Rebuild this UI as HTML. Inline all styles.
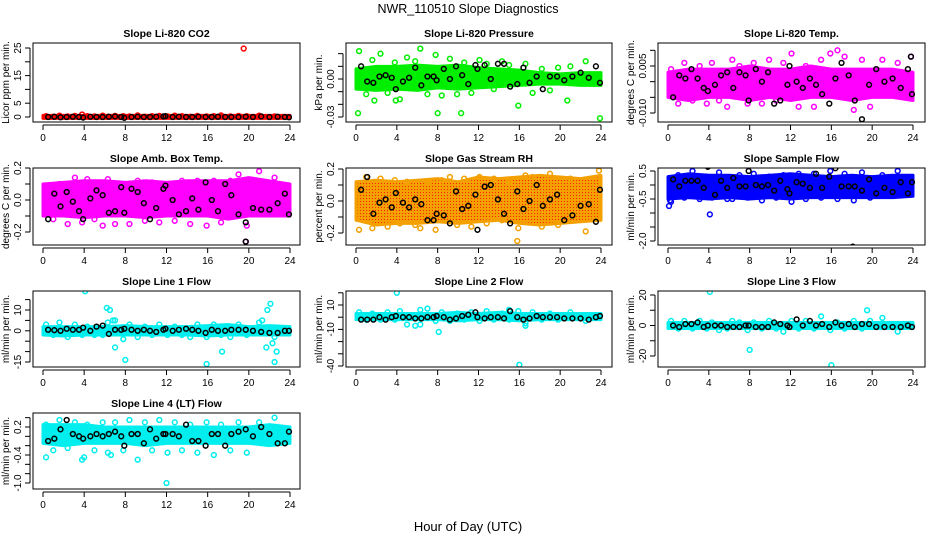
<!DOCTYPE html>
<html><head><meta charset="utf-8"><style>
html,body{margin:0;padding:0;background:#fff;}
svg{display:block;font-family:"Liberation Sans",sans-serif;}
</style></head><body>
<svg id="chart" width="936" height="540" viewBox="0 0 936 540">
<text x="468" y="13" text-anchor="middle" font-size="12.5">NWR_110510  Slope Diagnostics</text>
<text x="468" y="531" text-anchor="middle" font-size="13">Hour of Day (UTC)</text>
</svg>
<script>
// ---- shared hour arrays ----
const colHours=[0.3,1.0,1.6,2.4,3.1,3.8,4.3,5.0,5.8,6.3,7.0,7.8,8.4,9.2,9.9,10.6,11.3,12.1,12.8,13.5,14.3,15.0,15.9,16.6,17.3,18.2,19.0,19.8,21.0,22.5];
const blkHours=[0.5,1.1,1.7,2.3,2.9,3.5,3.9,4.6,5.2,5.8,6.4,7.0,7.6,7.9,8.6,9.2,9.8,10.4,11.0,11.7,11.9,12.6,13.2,13.9,14.5,15.1,15.8,16.4,17.0,17.7,18.3,19.0,19.7,20.4,21.2,22.0,22.8,23.5,23.9];
const bandHours=[0,2,4,6,8,10,12,14,16,18,20,22,24];
const xTickLabels=["0","4","8","12","16","20","24"];
const xTickValues=[0,4,8,12,16,20,24];

// ---- panel 1: CO2 ----
const co2BandLo=[-0.5,-0.5,-0.5,-0.5,-0.5,-0.5,-0.5,-0.5,-0.5,-0.5,-0.5,-0.5,-0.5];
const co2BandHi=[0.6,0.6,0.6,0.6,0.6,0.6,0.6,0.6,0.6,0.6,0.6,0.6,0.6];
const co2Col=[0.3,0.1,0.5,0.2,0.4,0.9,0.3,0.2,0.5,0.1,0.4,0.3,0.2,0.6,0.1,0.3,0.4,0.2,0.5,0.3,0.1,0.4,0.2,0.3,0.6,0.2,0.4,0.3,0.5,0.2];
const co2Blk=[0,0.1,-0.1,0,0.1,0,-0.2,0.1,0,0,0.1,0.2,0,-0.3,0,0.1,0,0,0.1,0.2,0.3,0,0.1,0,0,0.1,0,0,0.1,0,0,0,0.1,0,0.2,0,0.1,0,-0.1];
const co2OutHours=[19.5];
const co2OutVals=[24.8];
// ---- panel 2: pressure ----
const presBandLo=[-0.008,-0.009,-0.008,-0.009,-0.007,-0.008,-0.007,-0.006,-0.005,-0.004,-0.004,-0.005,-0.005];
const presBandHi=[0.008,0.010,0.010,0.011,0.010,0.011,0.009,0.008,0.007,0.005,0.004,0.005,0.005];
const presCol=[0.022,-0.012,0.015,0.02,-0.011,0.013,-0.016,0.017,0.014,0.024,-0.012,0.019,-0.013,0.016,-0.012,0.013,-0.011,0.015,0.012,-0.008,0.014,0.011,-0.021,0.012,-0.011,0.008,-0.009,0.009,0.010,0.014];
const presBlk=[0.01,-0.002,-0.003,0.002,0.003,0.001,-0.008,-0.002,0.001,0.009,-0.005,0.002,0.002,-0.001,0.008,0.0,0.01,0.003,-0.004,0.011,0.008,0.011,0.0,0.012,0.012,-0.006,-0.004,0.009,-0.003,0.002,-0.008,0.002,0.002,-0.001,0.002,0.005,0.001,0.01,-0.003];
const presOutHours=[0.2,8.0,10.3,23.9,20.7,3.9,1.8];
const presOutVals=[-0.027,-0.027,-0.027,-0.031,-0.017,-0.017,-0.017];
// ---- panel 3: Li-820 temp ----
const tempBandLo=[-0.005,-0.006,-0.005,-0.005,-0.006,-0.005,-0.006,-0.005,-0.005,-0.006,-0.005,-0.005,-0.006];
const tempBandHi=[0.003,0.004,0.004,0.004,0.005,0.004,0.004,0.005,0.004,0.004,0.004,0.004,0.003];
const tempCol=[0.004,-0.007,0.006,-0.006,0.005,-0.007,0.006,-0.006,-0.008,0.007,0.005,-0.007,0.006,-0.007,0.007,-0.006,0.006,0.009,-0.008,0.005,-0.008,0.007,0.009,0.010,0.008,-0.009,0.007,-0.008,0.007,0.006];
const tempBlk=[-0.005,0.002,0.001,0.004,0.001,-0.002,-0.003,-0.001,0.002,0.003,-0.002,0.003,0.002,-0.006,0.004,0.0,0.003,-0.007,-0.006,-0.001,0.005,0.0,-0.002,0.001,-0.001,-0.004,-0.007,0.001,0.006,0.002,-0.006,-0.012,-0.001,0.004,0.0,0.001,-0.002,0.004,-0.004];
const tempOutHours=[23.8];
const tempOutVals=[0.008];
// ---- panel 4: amb box temp ----
const ambBandLo=[-0.1,-0.1,-0.11,-0.1,-0.1,-0.11,-0.1,-0.1,-0.1,-0.12,-0.1,-0.1,-0.1];
const ambBandHi=[0.1,0.11,0.12,0.12,0.11,0.12,0.11,0.12,0.12,0.12,0.14,0.12,0.1];
const ambCol=[0.08,-0.12,0.1,-0.15,0.14,-0.14,0.13,-0.12,-0.16,0.13,-0.15,0.1,-0.15,0.12,-0.13,0.11,-0.14,0.1,-0.13,0.12,-0.15,0.12,-0.16,0.12,-0.14,0.12,0.16,-0.16,0.18,0.14];
const ambBlk=[-0.12,0.04,-0.04,0.05,-0.01,-0.07,-0.12,0.01,0.06,0.03,-0.08,-0.07,0.08,-0.08,0.07,0.05,-0.02,-0.12,-0.05,0.07,0.09,0.0,-0.09,-0.07,0.01,-0.06,0.11,0.0,-0.07,0.1,0.03,-0.09,-0.14,-0.05,-0.06,-0.06,-0.02,0.04,-0.09];
const ambOutHours=[19.7];
const ambOutVals=[-0.26];
// ---- panel 5: RH ----
const rhBandLo=[-0.12,-0.15,-0.14,-0.14,-0.13,-0.14,-0.13,-0.12,-0.14,-0.15,-0.14,-0.13,-0.12];
const rhBandHi=[0.12,0.13,0.12,0.13,0.14,0.12,0.15,0.14,0.15,0.16,0.15,0.14,0.16];
const rhCol=[-0.18,0.15,-0.17,0.14,-0.16,0.13,-0.14,0.12,-0.15,-0.17,0.12,-0.18,0.13,0.15,-0.15,0.14,-0.16,0.15,-0.14,0.14,-0.12,0.12,-0.17,0.16,0.15,-0.16,0.17,-0.15,0.14,-0.19];
const rhBlk=[0.07,0.15,-0.08,-0.01,0.01,-0.04,0.05,-0.01,-0.04,0.01,-0.02,-0.12,-0.12,-0.08,-0.09,-0.14,0.06,-0.05,-0.03,0.04,-0.18,0.09,0.1,0.01,-0.08,-0.14,0.06,-0.05,0.0,0.1,-0.03,0.01,0.04,-0.12,-0.09,-0.03,-0.02,-0.13,0.07];
const rhOutHours=[15.8,23.8];
const rhOutVals=[-0.25,0.19];
// ---- panel 6: sample flow ----
const sfBandLo=[-0.5,-0.45,-0.5,-0.45,-0.5,-0.45,-0.5,-0.45,-0.45,-0.45,-0.45,-0.45,-0.4];
const sfBandHi=[0.3,0.4,0.35,0.35,0.3,0.35,0.4,0.35,0.3,0.35,0.3,0.35,0.35];
const sfCol=[-0.6,0.35,-0.45,0.5,-0.5,0.3,-0.45,0.45,-0.5,-0.5,0.35,-0.45,0.4,-0.55,0.3,-0.45,0.35,-0.6,0.4,-0.5,0.4,-0.45,0.5,-0.5,0.4,-0.55,0.45,-0.45,0.35,0.5];
const sfBlk=[0.2,-0.05,0.15,0.15,0.15,-0.1,0.65,-0.35,0.15,-0.1,0.25,-0.05,-0.05,0.5,0.0,-0.05,0.0,-0.2,0.15,-0.15,-0.3,0.1,0.05,-0.1,0.4,-0.1,0.3,0.6,-0.05,-0.05,-0.05,-0.2,0.2,-0.3,-0.1,-0.25,0.1,-0.3,0.1];
const sfOutHours=[0.1,4.1,0.2];
const sfOutVals=[-0.75,-1.05,-0.55];
const sfBlkOutHours=[18.1];
const sfBlkOutVals=[-2.2];
// ---- panel 7: line 1 ----
const l1BandLo=[-2,-2.5,-2,-2,-2,-2,-2,-2,-2.5,-2,-2,-2,-2];
const l1BandHi=[2,2,2,2,2.5,2,2,2,2.5,3,2,2.5,2];
const l1Col=[3,-2,4,-3,3,-2,2,-2,-2,4,5,-4,3,-3,2,-2,3,-2,2,-2,-3,3,-3,3,-2,-3,3,-2,4,-3];
const l1Blk=[0.5,0.3,0,1,0.5,0.5,1.5,0,2,2.5,-1.5,0.5,0.5,1,0.5,0,0.5,0,-0.5,0.5,1,0,0.5,1,0.5,0,-1,0.5,0,0,0.5,0.5,0.5,0,-0.5,-1,-1,0,0];
const l1OutHours=[4.1,6.2,6.5,6.8,7.0,8.0,15.9,17.4,21.7,22.1,22.5,21.8,22.3,22.7,21.3];
const l1OutVals=[19,11,10,5,-8,-14,-16,-10,-8,13,-15,10,-6,-10,5];
// ---- panel 8: line 2 ----
const l2BandLo=[-2,-2,-2,-2,-2,-3,-2,-2,-3,-2,-2,-2,-2];
const l2BandHi=[3,3,3,3,3,4,3,4,3,3,3,3,3];
const l2Col=[4,-2,3,-2,4,-2,5,-6,-7,6,7,-3,4,-3,3,-2,4,-3,5,-2,3,-2,5,-7,4,-2,3,-2,4,-3];
const l2Blk=[-2,-2,-2,0,-2,0,1,0,0,-1,-1,0,0,1,0,-2,-1,1,2,4,0,-1,0,0,-1,5,0,-2,-1,1,0,0,0,-1,-1,-1,-2,0,1];
const l2OutHours=[4.0,8.1,16.0,15.0,16.6,6.3];
const l2OutVals=[20,-12,-39,6,-5,-6];
// ---- panel 9: line 3 ----
const l3BandLo=[-2,-2,-2,-2,-2,-2,-2,-2,-2,-2,-2,-2,-2];
const l3BandHi=[2,2,2,2,2,2,2,2,2,2,2,2,2];
const l3Col=[3,-2,3,-2,3,-2,2,-3,-2,3,2,-3,2,-2,3,-2,-4,3,-2,3,-2,6,-3,2,-2,3,-2,3,5,-4];
const l3Blk=[0,-1,1,1,2,-1,0,0,0,-1,-1,-1,0,0,-1,-1,-1,2,1,0,-1,4,0,3,0,1,-1,2,0,1,-1,1,1,-1,-1,-1,-1,0,-1];
const l3OutHours=[4.1,8.0,16.0,19.5];
const l3OutVals=[22,-16,-26,10];
// ---- panel 10: line 4 ----
const l4BandLo=[-0.15,-0.2,-0.15,-0.15,-0.15,-0.2,-0.15,-0.15,-0.15,-0.15,-0.15,-0.2,-0.15];
const l4BandHi=[0.25,0.25,0.25,0.2,0.2,0.2,0.2,0.2,0.2,0.2,0.2,0.25,0.2];
const l4Col=[0.25,-0.3,0.35,-0.25,0.3,-0.5,0.25,-0.3,0.3,-0.35,0.3,-0.3,0.35,-0.5,0.3,-0.3,0.35,-0.35,0.3,-0.3,0.25,-0.35,0.3,-0.4,0.25,-0.3,0.3,-0.35,0.3,0.4];
const l4Blk=[-0.1,-0.05,0.15,0.35,0.05,0.0,-0.05,0.0,0.05,0.0,0.05,0.1,0.0,-0.2,0.05,0.05,-0.15,0.15,-0.05,0.05,0.05,0.05,0.0,0.25,-0.1,-0.1,-0.2,0.05,0.05,-0.2,0.05,0.1,0.15,0.0,0.2,0.05,-0.15,-0.15,0.1];
const l4OutHours=[0.3,12.0,6.6,4.0];
const l4OutVals=[-0.45,-1.0,-0.4,-0.45];

const NS="http://www.w3.org/2000/svg";
const svg=document.getElementById('chart');
function mk(tag,attrs,parent){const e=document.createElementNS(NS,tag);for(const k in attrs)e.setAttribute(k,attrs[k]);(parent||svg).appendChild(e);return e;}

const cols=[{x0:33,x1:300,h0:43,h24:290},{x0:346,x1:612,h0:356,h24:601},{x0:658,x1:925,h0:668,h24:913}];
const rows=[{y0:43,y1:122},{y0:168,y1:245},{y0:291,y1:367},{y0:413,y1:489}];

const panels=[
 {key:'co2',title:'Slope Li-820 CO2',ylab:'Licor ppm per min.',c:0,r:0,color:'#ff0000',va:0,ya:117,vb:25,yb:48,ticks:[0,5,10,15,20,25],labels:{0:'0',5:'5',15:'15',25:'25'},lo:co2BandLo,hi:co2BandHi,col:co2Col,blk:co2Blk,oh:co2OutHours,ov:co2OutVals},
 {key:'pressure',title:'Slope Li-820 Pressure',ylab:'kPa per min.',c:1,r:0,color:'#00ee00',va:0,ya:79,vb:-0.03,yb:117,ticks:[-0.03,-0.02,-0.01,0,0.01,0.02],labels:{'-0.03':'-0.03','0':'0.00'},lo:presBandLo,hi:presBandHi,col:presCol,blk:presBlk,oh:presOutHours,ov:presOutVals},
 {key:'li820-temp',title:'Slope Li-820 Temp.',ylab:'degrees C per min.',c:2,r:0,color:'#ff00ff',va:0.005,ya:66,vb:-0.01,yb:113,ticks:[-0.01,-0.005,0,0.005,0.01],labels:{'-0.01':'-0.010','0.005':'0.005'},lo:tempBandLo,hi:tempBandHi,col:tempCol,blk:tempBlk,oh:tempOutHours,ov:tempOutVals,blkOut:true},
 {key:'amb-temp',title:'Slope Amb. Box Temp.',ylab:'degrees C per min.',c:0,r:1,color:'#ff00ff',va:0.2,ya:168,vb:-0.2,yb:232,ticks:[-0.2,-0.1,0,0.1,0.2],labels:{'-0.2':'-0.2','0':'0.0','0.2':'0.2'},lo:ambBandLo,hi:ambBandHi,col:ambCol,blk:ambBlk,oh:ambOutHours,ov:ambOutVals,blkOut:true},
 {key:'rh',title:'Slope Gas Stream RH',ylab:'percent per min.',c:1,r:1,color:'#f4a000',dot:'#ff2000',va:0.2,ya:169,vb:-0.2,yb:233,ticks:[-0.2,-0.1,0,0.1,0.2],labels:{'-0.2':'-0.2','0':'0.0','0.2':'0.2'},lo:rhBandLo,hi:rhBandHi,col:rhCol,blk:rhBlk,oh:rhOutHours,ov:rhOutVals},
 {key:'sample-flow',title:'Slope Sample Flow',ylab:'ml/min per min.',c:2,r:1,color:'#0000ff',va:0.5,ya:171,vb:-2,yb:241,ticks:[-2,-1.5,-1,-0.5,0,0.5],labels:{'0.5':'0.5','-0.5':'-0.5','-2':'-2.0'},lo:sfBandLo,hi:sfBandHi,col:sfCol,blk:sfBlk,oh:sfOutHours,ov:sfOutVals,bh:sfBlkOutHours,bv:sfBlkOutVals},
 {key:'line1',title:'Slope Line 1 Flow',ylab:'ml/min per min.',c:0,r:2,color:'#00eeee',va:10,ya:310,vb:-15,yb:362,ticks:[-15,-10,-5,0,5,10,15],labels:{'-15':'-15','0':'0','10':'10'},lo:l1BandLo,hi:l1BandHi,col:l1Col,blk:l1Blk,oh:l1OutHours,ov:l1OutVals},
 {key:'line2',title:'Slope Line 2 Flow',ylab:'ml/min per min.',c:1,r:2,color:'#00eeee',va:10,ya:305,vb:-40,yb:366,ticks:[-40,-30,-20,-10,0,10,20],labels:{'-40':'-40','-10':'-10','10':'10'},lo:l2BandLo,hi:l2BandHi,col:l2Col,blk:l2Blk,oh:l2OutHours,ov:l2OutVals},
 {key:'line3',title:'Slope Line 3 Flow',ylab:'ml/min per min.',c:2,r:2,color:'#00eeee',va:20,ya:295,vb:-20,yb:356,ticks:[-20,-10,0,10,20],labels:{'-20':'-20','0':'0','20':'20'},lo:l3BandLo,hi:l3BandHi,col:l3Col,blk:l3Blk,oh:l3OutHours,ov:l3OutVals},
 {key:'line4',title:'Slope Line 4 (LT) Flow',ylab:'ml/min per min.',c:0,r:3,color:'#00eeee',va:0.2,ya:427,vb:-1,yb:483,ticks:[-1,-0.8,-0.6,-0.4,-0.2,0,0.2,0.4],labels:{'-1':'-1.0','-0.4':'-0.4','0.2':'0.2'},lo:l4BandLo,hi:l4BandHi,col:l4Col,blk:l4Blk,oh:l4OutHours,ov:l4OutVals}
];

panels.forEach(p=>{
 const C=cols[p.c],R=rows[p.r];
 const g=mk('g',{});
 
 
 const xs=h=>C.h0+(C.h24-C.h0)*h/24;
 const ys=v=>p.ya+(p.yb-p.ya)*(v-p.va)/(p.vb-p.va);
 const clip=mk('clipPath',{id:'clip-'+p.key},g);
 mk('rect',{x:C.x0,y:R.y0,width:C.x1-C.x0,height:R.y1-R.y0},clip);
 const plot=mk('g',{'clip-path':'url(#clip-'+p.key+')'},g);
 let pts=[];
 bandHours.forEach((h,i)=>pts.push(xs(h)+','+ys(p.hi[i])));
 for(let i=bandHours.length-1;i>=0;i--)pts.push(xs(bandHours[i])+','+ys(p.lo[i]));
 const band=mk('polygon',{points:pts.join(' '),fill:p.color,stroke:p.color,'stroke-width':3,'stroke-linejoin':'round'},plot);
 
 
 if(p.dot){const pat=mk('pattern',{id:'pat-'+p.key,width:3,height:3,patternUnits:'userSpaceOnUse'},g);mk('rect',{width:3,height:3,fill:p.color},pat);mk('rect',{width:1,height:1,fill:p.dot},pat);band.setAttribute('fill','url(#pat-'+p.key+')');}
 const hrs=colHours.concat(p.oh), vals=p.col.concat(p.ov);
 hrs.forEach((h,i)=>{
  const c=mk('circle',{cx:xs(h),cy:ys(vals[i]),r:2.4,fill:'none',stroke:p.color,'stroke-width':1.5},plot);
  
  
 });
 let bh=blkHours.slice(), bv=p.blk.slice();
 if(p.bh){bh=bh.concat(p.bh);bv=bv.concat(p.bv);}
 if(p.blkOut){bh=bh.concat(p.oh);bv=bv.concat(p.ov);}
 bh.forEach((h,i)=>{
  const c=mk('circle',{cx:xs(h),cy:ys(bv[i]),r:2.4,fill:'none',stroke:'#000','stroke-width':1.5},plot);
  
  
 });
 const box=mk('rect',{x:C.x0,y:R.y0,width:C.x1-C.x0,height:R.y1-R.y0,fill:'none',stroke:'#000','stroke-width':1},g);
 
 
 const t=mk('text',{x:(C.x0+C.x1)/2,y:R.y0-6,'text-anchor':'middle','font-size':10.5,'font-weight':'bold'},g);
 t.textContent=p.title;
 
 
 mk('line',{x1:xs(0),x2:xs(24),y1:R.y1+3,y2:R.y1+3,stroke:'#000'},g);
 xTickValues.forEach((v,i)=>{
  mk('line',{x1:xs(v),x2:xs(v),y1:R.y1+3,y2:R.y1+8,stroke:'#000'},g);
  const tl=mk('text',{x:xs(v),y:R.y1+19,'text-anchor':'middle','font-size':10},g);
  tl.textContent=xTickLabels[i];
  
  
 });
 const tv=p.ticks;
 mk('line',{x1:C.x0-3,x2:C.x0-3,y1:ys(tv[0]),y2:ys(tv[tv.length-1]),stroke:'#000'},g);
 tv.forEach(v=>{
  const y=ys(v);
  mk('line',{x1:C.x0-8,x2:C.x0-3,y1:y,y2:y,stroke:'#000'},g);
  const lab=p.labels[String(v)];
  if(lab!==undefined){
   const tl=mk('text',{x:C.x0-12,y:y,'text-anchor':'middle','font-size':10,transform:'rotate(-90 '+(C.x0-12)+' '+y+')'},g);
   tl.textContent=lab;
   
   
  }
 });
 const yc=(R.y0+R.y1)/2, yx=C.x0-24;
 const yl=mk('text',{x:yx,y:yc,'text-anchor':'middle','font-size':10,transform:'rotate(-90 '+yx+' '+yc+')'},g);
 yl.textContent=p.ylab;
 
 
});
</script>
</body></html>
